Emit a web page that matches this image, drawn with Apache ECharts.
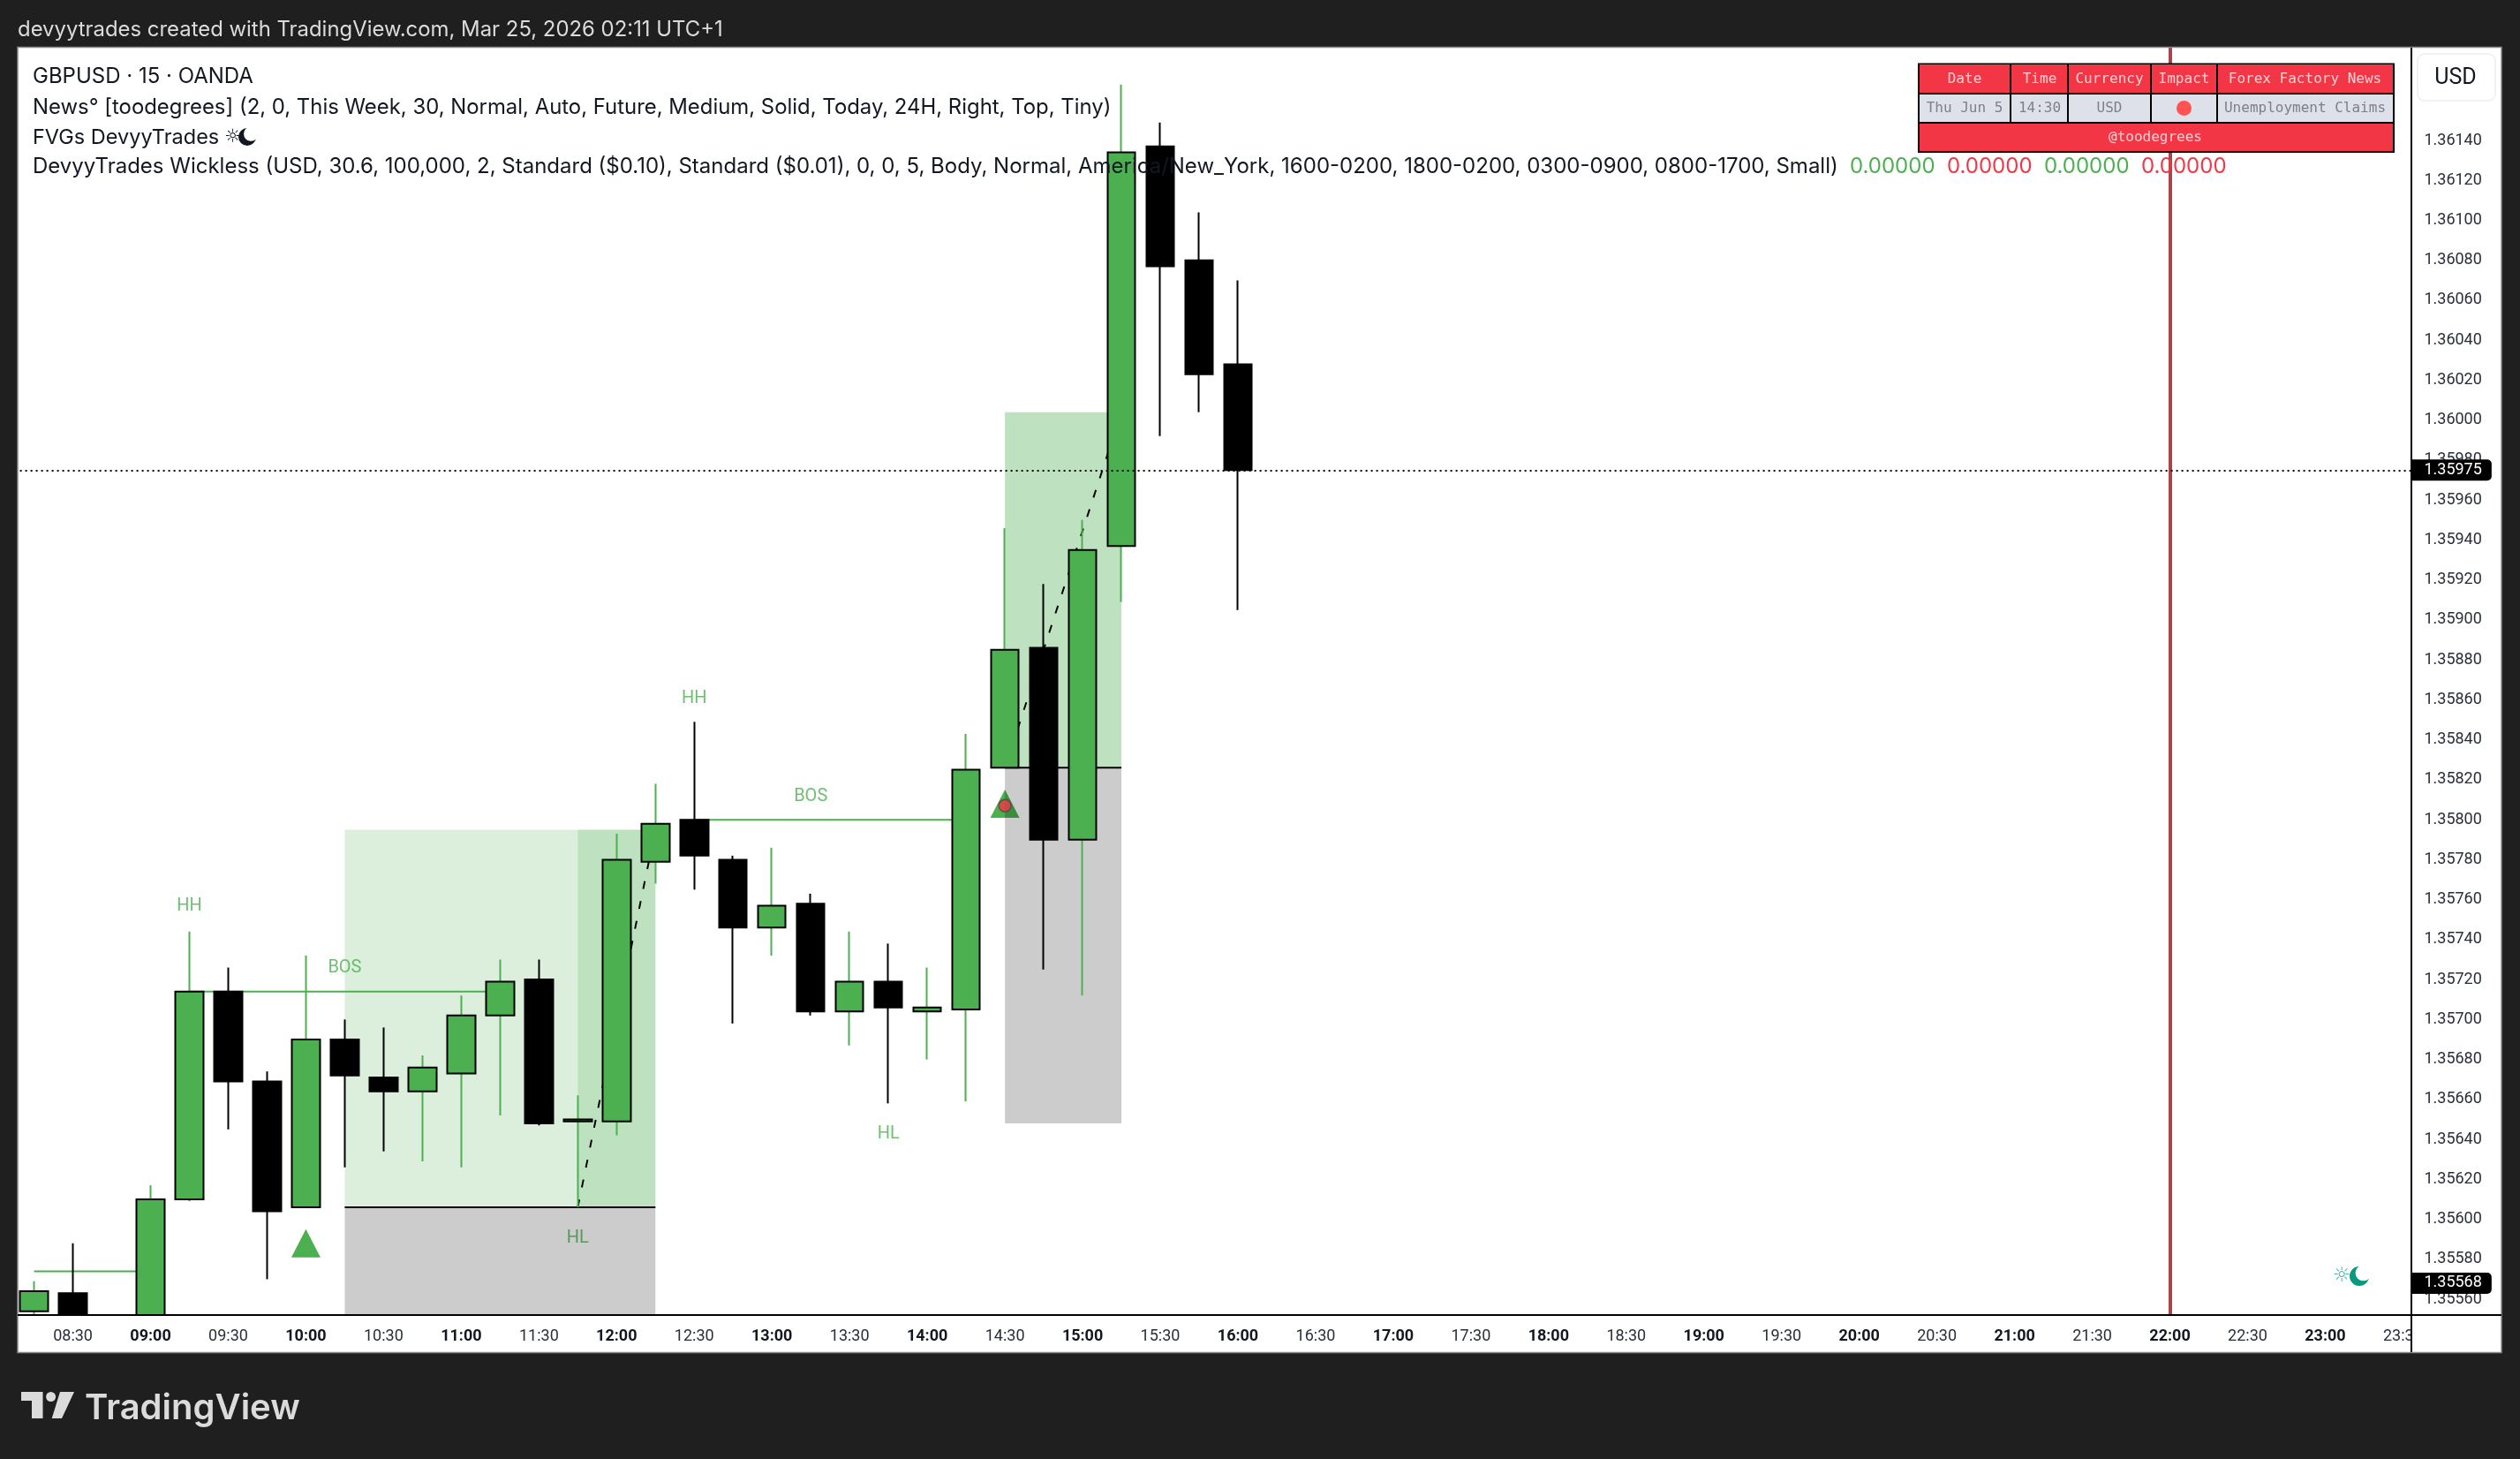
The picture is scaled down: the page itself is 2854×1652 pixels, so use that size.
<!DOCTYPE html>
<html><head><meta charset="utf-8">
<style>html,body{margin:0;padding:0;background:#1f1f1f}#c{width:2854px;height:1652px}</style>
<script src="https://cdn.jsdelivr.net/npm/echarts@6/dist/echarts.min.js"></script>
</head><body><div id="c"></div>
<script>
const categories=['08:15','08:30','08:45','09:00','09:15','09:30','09:45','10:00','10:15','10:30','10:45','11:00','11:15','11:30','11:45','12:00','12:15','12:30','12:45','13:00','13:15','13:30','13:45','14:00','14:15','14:30','14:45','15:00','15:15','15:30','15:45','16:00','16:15','16:30','16:45','17:00','17:15','17:30','17:45','18:00','18:15','18:30','18:45','19:00','19:15','19:30','19:45','20:00','20:15','20:30','20:45','21:00','21:15','21:30','21:45','22:00','22:15','22:30','22:45','23:00','23:15','23:30'];
const opens =[1.35554,1.35563,1.35549,1.35542,1.35610,1.35714,1.35669,1.35606,1.35690,1.35671,1.35664,1.35673,1.35702,1.35720,1.35649,1.35649,1.35779,1.35800,1.35780,1.35746,1.35758,1.35704,1.35719,1.35704,1.35705,1.35826,1.35886,1.35790,1.35937,1.36137,1.36080,1.36028];
const closes=[1.35564,1.35548,1.35543,1.35610,1.35714,1.35669,1.35604,1.35690,1.35672,1.35664,1.35676,1.35702,1.35719,1.35648,1.35650,1.35780,1.35798,1.35782,1.35746,1.35757,1.35704,1.35719,1.35706,1.35706,1.35825,1.35885,1.35790,1.35935,1.36134,1.36077,1.36023,1.35975];
const lows  =[1.35548,1.35542,1.35541,1.35540,1.35609,1.35645,1.35570,1.35606,1.35626,1.35634,1.35629,1.35626,1.35652,1.35647,1.35606,1.35642,1.35768,1.35765,1.35698,1.35732,1.35702,1.35687,1.35658,1.35680,1.35659,1.35826,1.35725,1.35712,1.35909,1.35992,1.36004,1.35905];
const highs =[1.35569,1.35588,1.35550,1.35617,1.35744,1.35726,1.35674,1.35732,1.35700,1.35696,1.35682,1.35712,1.35730,1.35730,1.35662,1.35793,1.35818,1.35849,1.35782,1.35786,1.35763,1.35744,1.35738,1.35726,1.35843,1.35946,1.35918,1.35950,1.36168,1.36149,1.36104,1.36070];
const swingLabels=[['HH','09:15',1.35758],['BOS','10:15',1.35727],['HL','11:45',1.35592],['HH','12:30',1.35862],['BOS','13:15',1.35813],['HL','13:45',1.35644]];
const triangles=[['10:00',1.35588],['14:30',1.35808]];
const newsDots=[['14:30',1.35807]];
const breakLines=[[['08:15',1.35574],['09:00',1.35574]],[['09:15',1.35714],['11:15',1.35714]],[['12:30',1.35800],['14:15',1.35800]]];
const legLines=[[['11:45',1.35606],['12:15',1.35795]],[['14:30',1.35826],['15:15',1.36004]]];
const fvgLines=[[['10:15',1.35606],['12:15',1.35606]],[['14:30',1.35826],['15:15',1.35826]]];
const greenBoxes=[['10:15','12:15',1.35795,1.35606],['11:45','12:15',1.35795,1.35606],['14:30','15:15',1.36004,1.35826],['14:30','15:15',1.36004,1.35826]];
const greyBoxes=[['10:15','12:15',1.35606,1.35400],['14:30','15:15',1.35826,1.35648]];
const currentPrice=1.35975, sessionPrice=1.35568, newsTime='22:00';
const titleText='devyytrades created with TradingView.com, Mar 25, 2026 02:11 UTC+1';
const legendLines=['GBPUSD · 15 · OANDA','News° [toodegrees] (2, 0, This Week, 30, Normal, Auto, Future, Medium, Solid, Today, 24H, Right, Top, Tiny)','FVGs DevyyTrades','DevyyTrades Wickless (USD, 30.6, 100,000, 2, Standard ($0.10), Standard ($0.01), 0, 0, 5, Body, Normal, America/New_York, 1600-0200, 1800-0200, 0300-0900, 0800-1700, Small)'];
const legendValues=['0.00000','0.00000','0.00000','0.00000'];
const tableHead=['Date','Time','Currency','Impact','Forex Factory News'];
const tableRow=['Thu Jun 5','14:30','USD','','Unemployment Claims'];
const tableFoot='@toodegrees';

const GREEN='#4CAF50',RED='#F23645',DARK='#1f1f1f',UI='Inter, Roboto, sans-serif',AX='Roboto, sans-serif',MONO='"DejaVu Sans Mono", monospace';
const wickData=opens.map((o,i)=>[o,closes[i],lows[i],highs[i]]);
const bodyData=opens.map((o,i)=>[o,closes[i],Math.min(o,closes[i]),Math.max(o,closes[i])]);

const rect=(x,y,w,h,fill,z,extra)=>Object.assign({type:'rect',z,silent:true,shape:{x,y,width:w,height:h},style:{fill}},extra||{});
const txt=(x,y,t,font,fill,z,align,base)=>({type:'text',z,silent:true,x,y,style:{text:t,font,fill,textAlign:align||'left',textVerticalAlign:base||'middle'}});
const moon=(cx,cy,r,fill,z)=>[{type:'circle',z,silent:true,shape:{cx,cy,r},style:{fill}},{type:'circle',z:z+0.01,silent:true,shape:{cx:cx+r*0.42,cy:cy-r*0.34,r:r*0.82},style:{fill:'#fff'}}];
const g=[];
g.push(rect(20,54,2813,1477,'#fff',0));
g.push(rect(20,1490,2711,41,'#fff',4));
g.push(rect(2731,54,102,1477,'#fff',6));
g.push(rect(0,0,2854,54,DARK,6));
g.push(rect(0,0,20,1652,DARK,6));
g.push(rect(0,1531,2854,121,DARK,6));
g.push(rect(2833,0,21,1652,DARK,6));
g.push(rect(20,53.5,2813,1478,'none',6,{style:{fill:'none',stroke:'#8a8a8a',lineWidth:1.5}}));
g.push(rect(2730,54,2,1477,'#000',6));
g.push(rect(20,1488,2813,2,'#000',6));
g.push(rect(2738,61,88,53,'#fff',6,{shape:{x:2738,y:61,width:88,height:53,r:8},style:{fill:'#fff',stroke:'#eceef2',lineWidth:1.5}}));
g.push(txt(2781,88.5,'USD','25px '+AX,'#131722',8,'center'));
g.push(txt(20,33.5,titleText,'23.9px '+UI,'#dbdbdb',8));
const legendFonts=[24,23.9,23.5,24];
[87,121.5,155.5,189].forEach((y,i)=>g.push(txt(37,y,legendLines[i],legendFonts[i]+'px '+UI,'#131722',10)));
g.push(txt(254,155.5,'☼','21px "DejaVu Sans"','#131722',10));
g.push(...moon(280,155,10,'#131722',10));
[2095,2205,2315,2425].forEach((x,i)=>g.push(txt(x,188.5,legendValues[i],'24px '+UI,i%2?RED:GREEN,10)));
g.push(txt(2652,1445,'☼','23px "DejaVu Sans"','#4db6ac',7,'center'));
g.push(...moon(2672,1445,11,'#089981',7));
// news table
const colX=[2173,2277,2342,2436,2511,2711], rowY=[72,106,139,172];
g.push(rect(2172,71.5,540,101.5,'#000',8));
const fillCell=(x0,x1,y0,y1,c)=>g.push(rect(x0+1,y0+1,x1-x0-2,y1-y0-2,c,8.1));
for(let c=0;c<5;c++){fillCell(colX[c],colX[c+1],rowY[0],rowY[1],RED);fillCell(colX[c],colX[c+1],rowY[1],rowY[2],'#dee1ea');}
fillCell(colX[0],colX[5],rowY[2],rowY[3],RED);
[2225,2310,2389,2473.5,2610.5].forEach((x,i)=>{g.push(txt(x,89.5,tableHead[i],'16px '+MONO,'#fbd1d5',8.2,'center'));if(tableRow[i])g.push(txt(x,122.5,tableRow[i],'16px '+MONO,'#7d808a',8.2,'center'));});
g.push({type:'circle',z:8.2,silent:true,shape:{cx:2473.5,cy:122.5,r:8.5},style:{fill:'#FF5252'}});
g.push(txt(2441,156,tableFoot,'16px '+MONO,'#fbd1d5',8.2,'center'));
// logo
g.push({type:'polygon',z:8,silent:true,shape:{points:[[24,1576],[48.5,1576],[48.5,1606],[36,1606],[36,1586],[24,1586]]},style:{fill:'#dbdbdb'}});
g.push({type:'circle',z:8,silent:true,shape:{cx:57.6,cy:1581.5,r:5.5},style:{fill:'#dbdbdb'}});
g.push({type:'polygon',z:8,silent:true,shape:{points:[[68,1576],[84,1576],[70,1606],[58.7,1606]]},style:{fill:'#dbdbdb'}});
g.push(txt(96,1595,'TradingView','600 40px '+UI,'#dbdbdb',8));

const segSeries=(segs,z,ls)=>segs.map(s=>({type:'line',data:s,symbol:'none',silent:true,z,lineStyle:ls,animation:false}));
const option={
 animation:false,backgroundColor:DARK,textStyle:{fontFamily:AX},
 grid:{left:16.6,right:110.6,top:23.3,bottom:135.7,containLabel:false},
 xAxis:{type:'category',data:categories,position:'bottom',offset:-12,z:5,boundaryGap:true,
  axisLine:{show:false},axisTick:{show:false},splitLine:{show:false},
  axisLabel:{margin:0,interval:(i,v)=>v.endsWith(':00')||v.endsWith(':30'),hideOverlap:false,showMinLabel:true,showMaxLabel:true,
   formatter:v=>v.endsWith(':00')?'{b|'+v+'}':'{n|'+v+'}',
   rich:{b:{fontFamily:AX,fontSize:18,fontWeight:700,color:'#131722'},n:{fontFamily:AX,fontSize:18,color:'#2a2e39'}}}},
 yAxis:{type:'value',position:'right',min:1.3554,max:1.362,interval:0.0002,z:7,scale:true,
  axisLine:{show:false},axisTick:{show:false},splitLine:{show:false},
  axisLabel:{margin:2,fontFamily:AX,fontSize:18,color:'#2a2e39',padding:[4,0,0,0],showMinLabel:false,showMaxLabel:false,
   formatter:v=>(v<1.3555||v>1.3615)?'':v.toFixed(5)}},
 graphic:{elements:g},
 series:[
  {type:'scatter',name:'swing',z:1,silent:true,symbolSize:1,data:swingLabels.map(d=>({value:[d[1],d[2]],name:d[0]})),
   label:{show:true,position:'inside',offset:[0,3],formatter:p=>p.name,fontFamily:AX,fontSize:20,color:GREEN},itemStyle:{color:'rgba(0,0,0,0)'}},
  {type:'scatter',name:'signal',z:1,silent:true,symbol:'triangle',symbolSize:[33,32],data:triangles,itemStyle:{color:GREEN,opacity:1}},
  {type:'line',name:'green zones',z:2,silent:true,data:[],symbol:'none',
   markArea:{z:2,silent:true,itemStyle:{color:'rgba(76,175,80,0.2)',borderWidth:0},data:greenBoxes.map(b=>[{xAxis:b[0],yAxis:b[2]},{xAxis:b[1],yAxis:b[3]}])}},
  {type:'line',name:'grey zones',z:2,silent:true,data:[],symbol:'none',
   markArea:{z:2,silent:true,itemStyle:{color:'rgba(0,0,0,0.2)',borderWidth:0},data:greyBoxes.map(b=>[{xAxis:b[0],yAxis:b[2]},{xAxis:b[1],yAxis:b[3]}])},
   markLine:{z:2.1,silent:true,symbol:'none',precision:5,label:{show:false},lineStyle:{color:'#A8444A',width:4,type:'solid',opacity:1},data:[{xAxis:newsTime}]}},
  ...segSeries(breakLines,2.2,{color:GREEN,width:2}),
  ...segSeries(fvgLines,2.2,{color:'#000',width:2}),
  ...segSeries(legLines,2.4,{color:'#000',width:2,type:[9,14]}),
  {type:'candlestick',name:'wicks',z:3,silent:true,barWidth:1,data:wickData,itemStyle:{color:GREEN,color0:'#000',borderColor:GREEN,borderColor0:'#000',borderWidth:2}},
  {type:'candlestick',name:'bodies',z:3.1,silent:true,barWidth:32,data:bodyData,itemStyle:{color:GREEN,color0:'#000',borderColor:'#000',borderColor0:'#000',borderWidth:2}},
  {type:'scatter',name:'news',z:3.2,silent:true,symbol:'circle',symbolSize:14,data:newsDots,itemStyle:{color:RED,borderColor:'#4a4a4a',borderWidth:1.5}},
  {type:'line',name:'price line',z:3.5,silent:true,data:[],symbol:'none',
   markLine:{z:3.5,silent:true,symbol:'none',precision:5,label:{show:false},lineStyle:{color:'#000',width:2,type:[2,4],opacity:1},data:[{yAxis:currentPrice}]}},
  {type:'line',name:'tags',z:9,silent:true,data:[],symbol:'none',
   markLine:{z:9,silent:true,symbol:'none',precision:5,lineStyle:{width:1,color:'rgba(0,0,0,0)',opacity:1},
    label:{show:true,position:'end',distance:-12,fontFamily:AX,fontSize:18,color:'#fff',backgroundColor:'#000',borderRadius:[0,5,5,0],padding:[4,11,2,14],formatter:p=>Number(p.value).toFixed(5)},
    data:[{yAxis:currentPrice},{yAxis:sessionPrice}]}}
 ]
};
const chart=echarts.init(document.getElementById('c'),null,{renderer:'canvas',width:2854,height:1652});
chart.setOption(option);
</script></body></html>
